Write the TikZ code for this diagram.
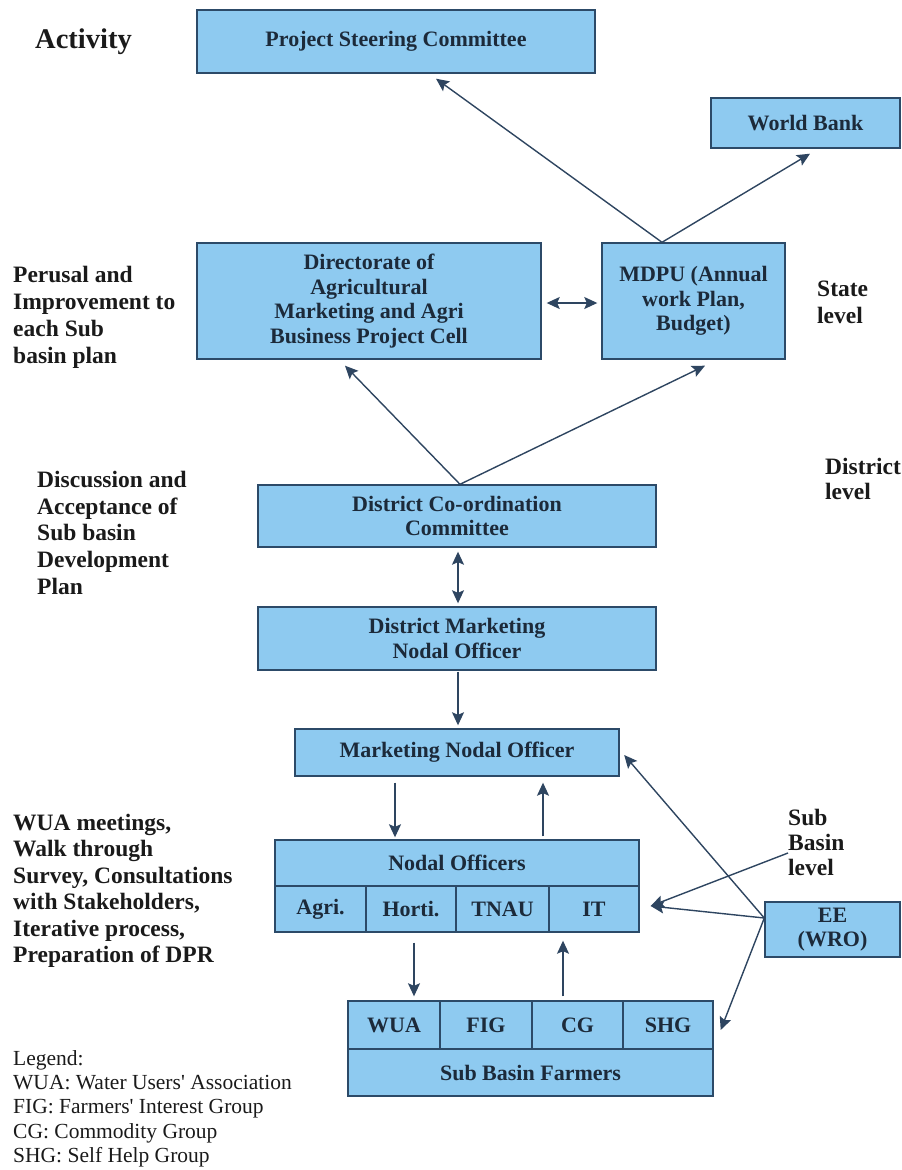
\documentclass[tikz,border=0pt]{standalone}
\usepackage{fontspec}
\setmainfont{Liberation Serif}
\usetikzlibrary{arrows.meta,calc}

\definecolor{boxfill}{HTML}{8ECAF0}
\definecolor{boxline}{HTML}{2C4A68}
\definecolor{arrowcol}{HTML}{2E4560}
\definecolor{boxtext}{HTML}{1C2A3A}
\definecolor{labeltext}{HTML}{1A1A1A}

\tikzset{
  box/.style={draw=boxline, line width=1.4pt, fill=boxfill, text=boxtext,
    font=\fontsize{22}{24.5}\selectfont\bfseries, align=center, inner sep=0pt},
  lbl/.style={text=labeltext, font=\fontsize{23.5}{27}\selectfont\bfseries,
    align=left, inner sep=0pt, anchor=north west},
  legendtext/.style={text=labeltext, font=\fontsize{21.5}{24.3}\selectfont,
    align=left, inner sep=0pt, anchor=north west},
  tip/.tip={Stealth[length=13pt,width=12pt,inset=2.5pt]},
  arr/.style={draw=arrowcol, line width=1.4pt, -tip},
  dblarr/.style={draw=arrowcol, line width=1.4pt, tip-tip}
}

\begin{document}
\begin{tikzpicture}[x=1pt,y=-1pt]
\useasboundingbox (0,0) rectangle (902,1170);

% ---------- state level ----------
\node[box, minimum width=398pt, minimum height=63pt] (psc) at (396,41.5) {Project Steering Committee};
\node[box, minimum width=189pt, minimum height=50pt] (wb) at (805.5,123) {World Bank};
\node[box, minimum width=344pt, minimum height=116pt] (dir) at (369,301)
  {Directorate of\\Agricultural\\Marketing and Agri\\Business Project Cell};
\node[box, minimum width=183pt, minimum height=116pt] (mdpu) at (693.5,301)
  {MDPU (Annual\\work Plan,\\Budget)};

% ---------- district level ----------
\node[box, minimum width=398pt, minimum height=62pt] (dcc) at (457,516)
  {District Co-ordination\\Committee};
\node[box, minimum width=398pt, minimum height=63pt] (dmno) at (457,638.5)
  {District Marketing\\Nodal Officer};

% ---------- sub basin level ----------
\node[box, minimum width=324pt, minimum height=47pt] (mno) at (457,752.5) {Marketing Nodal Officer};

\node[box, minimum width=364pt, minimum height=46pt] (nohead) at (457,863) {Nodal Officers};
\node[box, minimum width=91pt, minimum height=46pt] (agri)  at (320.5,909) {Agri.};
\node[box, minimum width=90pt, minimum height=46pt] (horti) at (411,909)   {Horti.};
\node[box, minimum width=93pt, minimum height=46pt] (tnau)  at (502.5,909) {TNAU};
\node[box, minimum width=90pt, minimum height=46pt] (it)    at (594,909)   {IT};

\node[box, minimum width=92pt, minimum height=48pt] (wua) at (394,1025)   {WUA};
\node[box, minimum width=92pt, minimum height=48pt] (fig) at (486,1025)   {FIG};
\node[box, minimum width=91pt, minimum height=48pt] (cg)  at (577.5,1025) {CG};
\node[box, minimum width=90pt, minimum height=48pt] (shg) at (668,1025)   {SHG};
\node[box, minimum width=365pt, minimum height=47pt] (farmers) at (530.5,1072.5) {Sub Basin Farmers};

\node[box, minimum width=135pt, minimum height=55pt] (ee) at (832.5,929.5) {EE\\(WRO)};

% ---------- side labels ----------
\node[lbl, font=\fontsize{28.5}{32}\selectfont\bfseries, anchor=west] (activity) at (35,42) {Activity};
\node[lbl] (perusal) at (13,266) {Perusal and\\Improvement to\\each Sub\\basin plan};
\node[lbl] (state) at (817,281) {State\\level};
\node[lbl, font=\fontsize{23.5}{24.5}\selectfont\bfseries] (district) at (825,458) {District\\level};
\node[lbl, font=\fontsize{23.5}{26.7}\selectfont\bfseries] (discussion) at (37,471)
  {Discussion and\\Acceptance of\\Sub basin\\Development\\Plan};
\node[lbl, font=\fontsize{23.5}{26.4}\selectfont\bfseries] (wuameet) at (13,814)
  {WUA meetings,\\Walk through\\Survey, Consultations\\with Stakeholders,\\Iterative process,\\Preparation of DPR};
\node[lbl, font=\fontsize{23.5}{25}\selectfont\bfseries] (sub) at (788,809) {Sub\\Basin\\level};

\node[legendtext] (legend) at (13,1050)
  {Legend:\\WUA: Water Users\textquotesingle\ Association\\FIG: Farmers\textquotesingle\ Interest Group\\CG: Commodity Group\\SHG: Self Help Group};

% ---------- connectors ----------
\coordinate (mdpuTop) at ($(mdpu.north)+(-31.5,0)$);
\draw[arr] (mdpuTop) -- ($(psc.south)+(40,5)$);
\draw[arr] (mdpuTop) -- ($(wb.south)+(4.5,5)$);
\draw[dblarr] ($(dir.east)+(5,2)$) -- ($(mdpu.west)+(-4,2)$);

\coordinate (dccTop) at ($(dcc.north)+(3,0)$);
\draw[arr] (dccTop) -- ($(dir.south)+(-24,6)$);
\draw[arr] (dccTop) -- ($(mdpu.south)+(11.5,6)$);

\draw[dblarr] ($(dcc.south)+(1,4)$) -- ($(dmno.north)+(1,-3)$);
\draw[arr] ($(dmno.south)+(1,1)$) -- ($(mno.north)+(1,-3)$);

\draw[arr] ($(mno.south)+(-62,6)$) -- ($(nohead.north)+(-62,-2)$);
\draw[arr] ($(nohead.north)+(86,-3)$) -- ($(mno.south)+(86,6)$);

\draw[arr] ($(horti.south)+(3,10)$) -- ($(wua.north)+(20,-4)$);
\draw[arr] ($(cg.north)+(-14.5,-4)$) -- ($(it.south)+(-31,8)$);

\coordinate (eeL) at ($(ee.west)+(0,-11.5)$);
\draw[arr] (eeL) -- ($(mno.east)+(4.5,2.5)$);
\draw[arr] (eeL) -- ($(it.east)+(11,-3)$);
\draw[arr] (eeL) -- ($(shg.east)+(7,5)$);

\coordinate (subArrow) at (788,853);
\draw[arr] (subArrow) -- ($(it.east)+(11,-3)$);
\end{tikzpicture}
\end{document}
